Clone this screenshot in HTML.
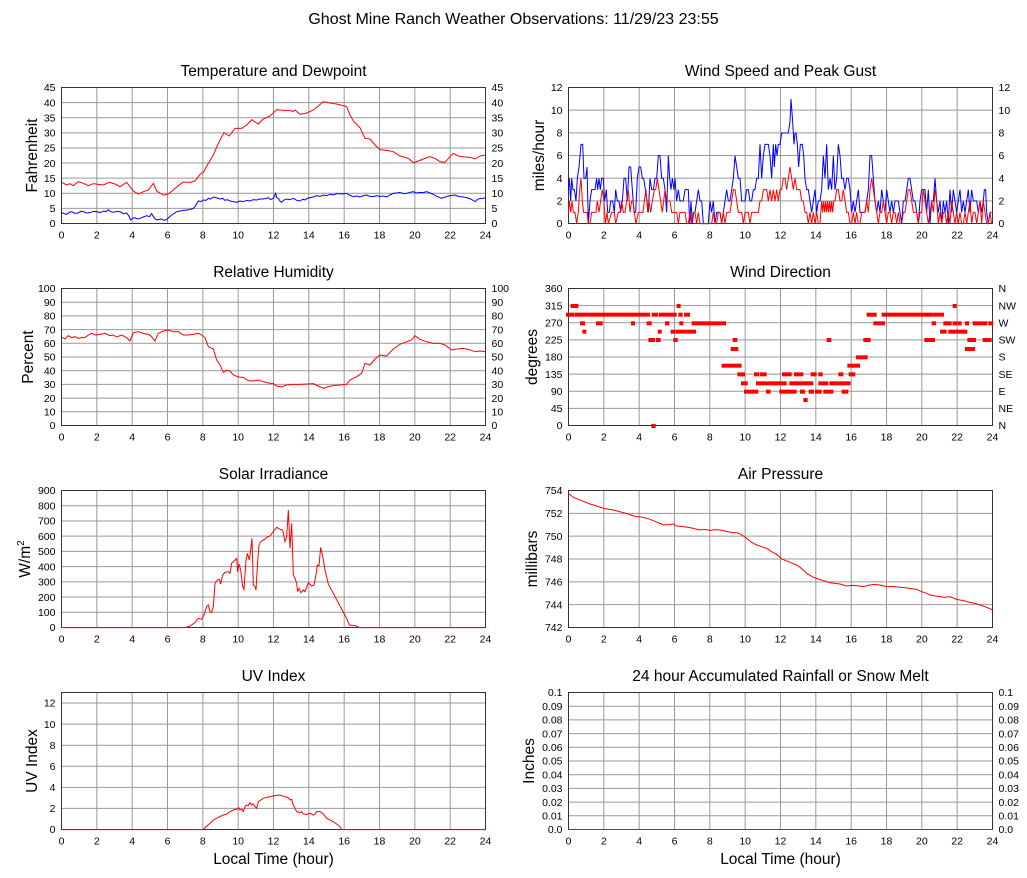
<!DOCTYPE html>
<html><head><meta charset="utf-8"><style>
html,body{margin:0;padding:0;background:#fff;}
svg{display:block;}
text{font-family:"Liberation Sans",Arial,sans-serif;fill:#000;}
.t{font-size:10.5px;}
.h{font-size:15.5px;}
.g{fill:none;stroke:#999;stroke-width:1;}
.f{fill:none;stroke:#333;stroke-width:1;}
.r{fill:none;stroke:#f00;stroke-width:1;vector-effect:non-scaling-stroke;}
.b{fill:none;stroke:#00f;stroke-width:1;vector-effect:non-scaling-stroke;}
</style></head><body>
<svg width="1027" height="878" viewBox="0 0 1027 878" xmlns="http://www.w3.org/2000/svg">
<rect width="1027" height="878" fill="#fff"/>
<text x="513.5" y="24" text-anchor="middle" style="font-size:16px">Ghost Mine Ranch Weather Observations: 11/29/23 23:55</text>

<!-- Temperature -->
<g transform="translate(61.5,87.5)">
<path class="g" d="M0 15.11H424M0 30.22H424M0 45.33H424M0 60.44H424M0 75.56H424M0 90.67H424M0 105.78H424M0 120.89H424"/>
<path class="g" d="M35.33 0V136M70.67 0V136M106 0V136M141.33 0V136M176.67 0V136M212 0V136M247.33 0V136M282.67 0V136M318 0V136M353.33 0V136M388.67 0V136"/>
<rect class="f" x="0" y="0" width="424" height="136"/>
<text class="h" x="212" y="-11.5" text-anchor="middle">Temperature and Dewpoint</text>
<text class="h" transform="translate(-24.5,68) rotate(-90)" text-anchor="middle">Fahrenheit</text>
<g class="t" text-anchor="end">
<text x="-6" y="3.7">45</text><text x="-6" y="18.8">40</text><text x="-6" y="33.9">35</text><text x="-6" y="49">30</text><text x="-6" y="64.1">25</text><text x="-6" y="79.3">20</text><text x="-6" y="94.4">15</text><text x="-6" y="109.5">10</text><text x="-6" y="124.6">5</text><text x="-6" y="139.7">0</text>
</g>
<g class="t">
<text x="430" y="3.7">45</text><text x="430" y="18.8">40</text><text x="430" y="33.9">35</text><text x="430" y="49">30</text><text x="430" y="64.1">25</text><text x="430" y="79.3">20</text><text x="430" y="94.4">15</text><text x="430" y="109.5">10</text><text x="430" y="124.6">5</text><text x="430" y="139.7">0</text>
</g>
<g class="t" text-anchor="middle">
<text x="0" y="151">0</text><text x="35.33" y="151">2</text><text x="70.67" y="151">4</text><text x="106" y="151">6</text><text x="141.33" y="151">8</text><text x="176.67" y="151">10</text><text x="212" y="151">12</text><text x="247.33" y="151">14</text><text x="282.67" y="151">16</text><text x="318" y="151">18</text><text x="353.33" y="151">20</text><text x="388.67" y="151">22</text><text x="424" y="151">24</text>
</g>
</g>

<!-- Wind speed -->
<g transform="translate(568.5,87.5)">
<path class="g" d="M0 22.67H424M0 45.33H424M0 68H424M0 90.67H424M0 113.33H424"/>
<path class="g" d="M35.33 0V136M70.67 0V136M106 0V136M141.33 0V136M176.67 0V136M212 0V136M247.33 0V136M282.67 0V136M318 0V136M353.33 0V136M388.67 0V136"/>
<rect class="f" x="0" y="0" width="424" height="136"/>
<text class="h" x="212" y="-11.5" text-anchor="middle">Wind Speed and Peak Gust</text>
<text class="h" transform="translate(-24.5,68) rotate(-90)" text-anchor="middle">miles/hour</text>
<g class="t" text-anchor="end">
<text x="-6" y="3.7">12</text><text x="-6" y="26.4">10</text><text x="-6" y="49">8</text><text x="-6" y="71.7">6</text><text x="-6" y="94.4">4</text><text x="-6" y="117">2</text><text x="-6" y="139.7">0</text>
</g>
<g class="t">
<text x="430" y="3.7">12</text><text x="430" y="26.4">10</text><text x="430" y="49">8</text><text x="430" y="71.7">6</text><text x="430" y="94.4">4</text><text x="430" y="117">2</text><text x="430" y="139.7">0</text>
</g>
<g class="t" text-anchor="middle">
<text x="0" y="151">0</text><text x="35.33" y="151">2</text><text x="70.67" y="151">4</text><text x="106" y="151">6</text><text x="141.33" y="151">8</text><text x="176.67" y="151">10</text><text x="212" y="151">12</text><text x="247.33" y="151">14</text><text x="282.67" y="151">16</text><text x="318" y="151">18</text><text x="353.33" y="151">20</text><text x="388.67" y="151">22</text><text x="424" y="151">24</text>
</g>
</g>

<!-- Relative Humidity -->
<g transform="translate(61.5,288.5)">
<path class="g" d="M0 13.7H424M0 27.4H424M0 41.1H424M0 54.8H424M0 68.5H424M0 82.2H424M0 95.9H424M0 109.6H424M0 123.3H424"/>
<path class="g" d="M35.33 0V137M70.67 0V137M106 0V137M141.33 0V137M176.67 0V137M212 0V137M247.33 0V137M282.67 0V137M318 0V137M353.33 0V137M388.67 0V137"/>
<rect class="f" x="0" y="0" width="424" height="137"/>
<text class="h" x="212" y="-11.5" text-anchor="middle">Relative Humidity</text>
<text class="h" transform="translate(-28.5,68.5) rotate(-90)" text-anchor="middle">Percent</text>
<g class="t" text-anchor="end">
<text x="-6" y="3.7">100</text><text x="-6" y="17.4">90</text><text x="-6" y="31.1">80</text><text x="-6" y="44.8">70</text><text x="-6" y="58.5">60</text><text x="-6" y="72.2">50</text><text x="-6" y="85.9">40</text><text x="-6" y="99.6">30</text><text x="-6" y="113.3">20</text><text x="-6" y="127">10</text><text x="-6" y="140.7">0</text>
</g>
<g class="t">
<text x="430" y="3.7">100</text><text x="430" y="17.4">90</text><text x="430" y="31.1">80</text><text x="430" y="44.8">70</text><text x="430" y="58.5">60</text><text x="430" y="72.2">50</text><text x="430" y="85.9">40</text><text x="430" y="99.6">30</text><text x="430" y="113.3">20</text><text x="430" y="127">10</text><text x="430" y="140.7">0</text>
</g>
<g class="t" text-anchor="middle">
<text x="0" y="152">0</text><text x="35.33" y="152">2</text><text x="70.67" y="152">4</text><text x="106" y="152">6</text><text x="141.33" y="152">8</text><text x="176.67" y="152">10</text><text x="212" y="152">12</text><text x="247.33" y="152">14</text><text x="282.67" y="152">16</text><text x="318" y="152">18</text><text x="353.33" y="152">20</text><text x="388.67" y="152">22</text><text x="424" y="152">24</text>
</g>
</g>

<!-- Wind Direction -->
<g transform="translate(568.5,288.5)">
<path class="g" d="M0 17.13H424M0 34.25H424M0 51.38H424M0 68.5H424M0 85.63H424M0 102.75H424M0 119.88H424"/>
<path class="g" d="M35.33 0V137M70.67 0V137M106 0V137M141.33 0V137M176.67 0V137M212 0V137M247.33 0V137M282.67 0V137M318 0V137M353.33 0V137M388.67 0V137"/>
<rect class="f" x="0" y="0" width="424" height="137"/>
<text class="h" x="212" y="-11.5" text-anchor="middle">Wind Direction</text>
<text class="h" transform="translate(-31.5,68.5) rotate(-90)" text-anchor="middle">degrees</text>
<g class="t" text-anchor="end">
<text x="-6" y="3.7">360</text><text x="-6" y="20.8">315</text><text x="-6" y="38">270</text><text x="-6" y="55.1">225</text><text x="-6" y="72.2">180</text><text x="-6" y="89.3">135</text><text x="-6" y="106.5">90</text><text x="-6" y="123.6">45</text><text x="-6" y="140.7">0</text>
</g>
<g class="t">
<text x="430" y="3.7">N</text><text x="430" y="20.8">NW</text><text x="430" y="38">W</text><text x="430" y="55.1">SW</text><text x="430" y="72.2">S</text><text x="430" y="89.3">SE</text><text x="430" y="106.5">E</text><text x="430" y="123.6">NE</text><text x="430" y="140.7">N</text>
</g>
<g class="t" text-anchor="middle">
<text x="0" y="152">0</text><text x="35.33" y="152">2</text><text x="70.67" y="152">4</text><text x="106" y="152">6</text><text x="141.33" y="152">8</text><text x="176.67" y="152">10</text><text x="212" y="152">12</text><text x="247.33" y="152">14</text><text x="282.67" y="152">16</text><text x="318" y="152">18</text><text x="353.33" y="152">20</text><text x="388.67" y="152">22</text><text x="424" y="152">24</text>
</g>
</g>

<!-- Solar -->
<g transform="translate(61.5,490.5)">
<path class="g" d="M0 15.22H424M0 30.44H424M0 45.67H424M0 60.89H424M0 76.11H424M0 91.33H424M0 106.56H424M0 121.78H424"/>
<path class="g" d="M35.33 0V137M70.67 0V137M106 0V137M141.33 0V137M176.67 0V137M212 0V137M247.33 0V137M282.67 0V137M318 0V137M353.33 0V137M388.67 0V137"/>
<rect class="f" x="0" y="0" width="424" height="137"/>
<text class="h" x="212" y="-11.5" text-anchor="middle">Solar Irradiance</text>
<text class="h" transform="translate(-31.5,68.5) rotate(-90)" text-anchor="middle">W/m<tspan dy="-6" style="font-size:10px">2</tspan></text>
<g class="t" text-anchor="end">
<text x="-6" y="3.7">900</text><text x="-6" y="18.9">800</text><text x="-6" y="34.1">700</text><text x="-6" y="49.4">600</text><text x="-6" y="64.6">500</text><text x="-6" y="79.8">400</text><text x="-6" y="95">300</text><text x="-6" y="110.3">200</text><text x="-6" y="125.5">100</text><text x="-6" y="140.7">0</text>
</g>
<g class="t" text-anchor="middle">
<text x="0" y="152">0</text><text x="35.33" y="152">2</text><text x="70.67" y="152">4</text><text x="106" y="152">6</text><text x="141.33" y="152">8</text><text x="176.67" y="152">10</text><text x="212" y="152">12</text><text x="247.33" y="152">14</text><text x="282.67" y="152">16</text><text x="318" y="152">18</text><text x="353.33" y="152">20</text><text x="388.67" y="152">22</text><text x="424" y="152">24</text>
</g>
</g>

<!-- Pressure -->
<g transform="translate(568.5,490.5)">
<path class="g" d="M0 22.83H424M0 45.67H424M0 68.5H424M0 91.33H424M0 114.17H424"/>
<path class="g" d="M35.33 0V137M70.67 0V137M106 0V137M141.33 0V137M176.67 0V137M212 0V137M247.33 0V137M282.67 0V137M318 0V137M353.33 0V137M388.67 0V137"/>
<rect class="f" x="0" y="0" width="424" height="137"/>
<text class="h" x="212" y="-11.5" text-anchor="middle">Air Pressure</text>
<text class="h" transform="translate(-31.5,68.5) rotate(-90)" text-anchor="middle">millibars</text>
<g class="t" text-anchor="end">
<text x="-6" y="3.7">754</text><text x="-6" y="26.5">752</text><text x="-6" y="49.4">750</text><text x="-6" y="72.2">748</text><text x="-6" y="95">746</text><text x="-6" y="117.9">744</text><text x="-6" y="140.7">742</text>
</g>
<g class="t" text-anchor="middle">
<text x="0" y="152">0</text><text x="35.33" y="152">2</text><text x="70.67" y="152">4</text><text x="106" y="152">6</text><text x="141.33" y="152">8</text><text x="176.67" y="152">10</text><text x="212" y="152">12</text><text x="247.33" y="152">14</text><text x="282.67" y="152">16</text><text x="318" y="152">18</text><text x="353.33" y="152">20</text><text x="388.67" y="152">22</text><text x="424" y="152">24</text>
</g>
</g>

<!-- UV -->
<g transform="translate(61.5,692.5)">
<path class="g" d="M0 10.54H424M0 31.62H424M0 52.69H424M0 73.77H424M0 94.85H424M0 115.92H424"/>
<path class="g" d="M35.33 0V137M70.67 0V137M106 0V137M141.33 0V137M176.67 0V137M212 0V137M247.33 0V137M282.67 0V137M318 0V137M353.33 0V137M388.67 0V137"/>
<rect class="f" x="0" y="0" width="424" height="137"/>
<text class="h" x="212" y="-11.5" text-anchor="middle">UV Index</text>
<text class="h" transform="translate(-24.5,68.5) rotate(-90)" text-anchor="middle">UV Index</text>
<g class="t" text-anchor="end">
<text x="-6" y="14.2">12</text><text x="-6" y="35.3">10</text><text x="-6" y="56.4">8</text><text x="-6" y="77.5">6</text><text x="-6" y="98.5">4</text><text x="-6" y="119.6">2</text><text x="-6" y="140.7">0</text>
</g>
<g class="t" text-anchor="middle">
<text x="0" y="152">0</text><text x="35.33" y="152">2</text><text x="70.67" y="152">4</text><text x="106" y="152">6</text><text x="141.33" y="152">8</text><text x="176.67" y="152">10</text><text x="212" y="152">12</text><text x="247.33" y="152">14</text><text x="282.67" y="152">16</text><text x="318" y="152">18</text><text x="353.33" y="152">20</text><text x="388.67" y="152">22</text><text x="424" y="152">24</text>
</g>
<text class="h" x="212" y="171.5" text-anchor="middle">Local Time (hour)</text>
</g>

<!-- Rain -->
<g transform="translate(568.5,692.5)">
<path class="g" d="M0 13.7H424M0 27.4H424M0 41.1H424M0 54.8H424M0 68.5H424M0 82.2H424M0 95.9H424M0 109.6H424M0 123.3H424"/>
<path class="g" d="M35.33 0V137M70.67 0V137M106 0V137M141.33 0V137M176.67 0V137M212 0V137M247.33 0V137M282.67 0V137M318 0V137M353.33 0V137M388.67 0V137"/>
<rect class="f" x="0" y="0" width="424" height="137"/>
<text class="h" x="212" y="-11.5" text-anchor="middle">24 hour Accumulated Rainfall or Snow Melt</text>
<text class="h" transform="translate(-34.5,68.5) rotate(-90)" text-anchor="middle">Inches</text>
<g class="t" text-anchor="end">
<text x="-6" y="3.7">0.1</text><text x="-6" y="17.4">0.09</text><text x="-6" y="31.1">0.08</text><text x="-6" y="44.8">0.07</text><text x="-6" y="58.5">0.06</text><text x="-6" y="72.2">0.05</text><text x="-6" y="85.9">0.04</text><text x="-6" y="99.6">0.03</text><text x="-6" y="113.3">0.02</text><text x="-6" y="127">0.01</text><text x="-6" y="140.7">0.0</text>
</g>
<g class="t">
<text x="430" y="3.7">0.1</text><text x="430" y="17.4">0.09</text><text x="430" y="31.1">0.08</text><text x="430" y="44.8">0.07</text><text x="430" y="58.5">0.06</text><text x="430" y="72.2">0.05</text><text x="430" y="85.9">0.04</text><text x="430" y="99.6">0.03</text><text x="430" y="113.3">0.02</text><text x="430" y="127">0.01</text><text x="430" y="140.7">0.0</text>
</g>
<g class="t" text-anchor="middle">
<text x="0" y="152">0</text><text x="35.33" y="152">2</text><text x="70.67" y="152">4</text><text x="106" y="152">6</text><text x="141.33" y="152">8</text><text x="176.67" y="152">10</text><text x="212" y="152">12</text><text x="247.33" y="152">14</text><text x="282.67" y="152">16</text><text x="318" y="152">18</text><text x="353.33" y="152">20</text><text x="388.67" y="152">22</text><text x="424" y="152">24</text>
</g>
<text class="h" x="212" y="171.5" text-anchor="middle">Local Time (hour)</text>
<path d="M0 137H424" stroke="#f00" stroke-width="1" fill="none"/>
</g>

<!-- DATA: Temperature / Dewpoint -->
<g transform="translate(60,85) scale(0.33333)">
<polyline class="r" points="5,292 20,300 30,296 40,302 55,290 70,295 85,302 100,296 115,298 130,300 148,292 165,297 180,305 200,292 210,305 220,318 235,327 250,320 265,315 280,295 290,318 310,330 325,327 340,315 355,302 370,291 390,292 405,288 420,268 430,262 445,235 460,210 475,175 492,143 508,153 525,130 545,130 560,120 575,104 595,117 610,102 630,93 650,74 670,76 690,76 698,80 705,75 720,88 740,84 760,75 775,63 790,50 810,54 835,58 860,65 870,90 880,108 900,128 915,160 930,162 945,180 960,194 980,196 1000,200 1020,213 1045,220 1060,233 1075,228 1090,222 1110,215 1125,220 1140,230 1155,232 1170,215 1180,205 1195,213 1215,216 1230,217 1245,222 1260,213 1275,210"/>
<polyline class="b" points="5,382 12,386 20,388 28,382 35,380 45,385 55,384 62,379 70,380 80,384 90,383 100,379 110,380 120,383 130,378 138,380 145,374 152,380 160,382 170,379 180,380 190,386 200,384 206,392 212,405 218,400 225,398 232,402 240,400 250,396 260,392 268,395 275,386 282,398 290,405 298,403 305,402 312,406 320,404 328,396 335,390 342,386 350,380 360,378 370,376 382,375 395,372 400,370 405,365 410,356 415,348 422,350 430,345 438,346 445,340 452,342 460,336 468,338 480,342 488,340 495,346 502,344 510,348 520,350 530,352 540,348 550,350 560,346 570,348 580,344 590,345 600,342 610,342 618,340 625,338 632,344 640,340 647,325 650,338 655,340 660,348 665,352 672,345 680,342 690,344 700,340 710,346 720,348 728,343 735,345 742,340 750,338 760,336 770,332 780,334 790,330 800,332 810,328 820,330 830,326 845,327 860,325 868,330 880,335 890,333 900,336 910,332 920,330 930,334 940,335 950,332 960,334 970,333 980,336 990,330 1000,325 1010,324 1020,322 1030,326 1040,325 1050,322 1060,320 1070,324 1080,322 1090,323 1100,320 1110,324 1120,328 1130,334 1145,340 1152,337 1160,335 1170,332 1185,330 1192,333 1200,335 1210,336 1220,338 1232,342 1245,350 1252,344 1260,340 1268,341 1275,338"/>
</g>

<!-- DATA: Wind speed -->
<g transform="translate(565,85) scale(0.33333)">
<polyline class="b" points="10,314 13,280 17,348 20,280 24,314 28,314 33,348 37,280 42,246 48,178 53,178 57,280 62,280 66,246 70,416 75,348 80,314 90,314 95,280 98,314 102,280 106,314 110,280 115,280 119,348 124,314 128,382 133,382 137,348 143,348 148,382 152,314 157,348 162,348 167,382 172,348 177,280 182,280 187,348 192,246 197,246 202,314 207,382 212,382 217,280 222,246 227,246 232,280 236,280 241,314 246,348 250,382 255,280 260,314 265,314 270,280 275,280 280,212 285,212 290,280 295,280 300,314 305,382 310,212 314,280 318,314 322,280 327,314 330,280 335,348 340,314 345,348 350,348 355,348 360,314 365,314 370,314 374,416 378,348 382,416 386,382 390,382 395,348 400,314 405,348 410,348 415,416 420,416 430,416 435,348 440,382 445,348 450,416 455,382 460,382 465,382 470,416 475,382 480,348 485,314 490,348 495,348 500,314 505,280 510,212 515,246 520,280 525,280 530,348 535,348 540,348 545,314 550,314 555,348 560,348 565,314 570,314 575,280 580,280 585,178 590,280 595,212 600,178 605,178 610,178 615,212 620,280 625,178 628,246 632,178 636,212 640,178 645,178 650,144 660,144 670,144 675,110 678,42 683,110 687,178 690,144 693,144 697,178 701,246 706,178 712,178 716,212 720,280 725,314 730,314 735,348 740,382 745,348 750,314 755,382 760,348 765,348 770,314 775,212 780,280 785,178 790,314 795,280 800,314 805,212 810,314 815,280 820,178 825,212 830,280 835,280 840,314 845,280 850,280 855,314 860,382 865,348 870,382 875,348 880,314 885,382 890,382 895,382 900,382 905,348 910,314 915,212 920,212 925,280 930,348 935,382 940,348 945,382 950,314 955,348 960,382 965,314 970,348 975,382 980,348 985,382 990,348 995,348 1000,348 1005,382 1010,416 1015,348 1020,348 1025,314 1030,280 1035,280 1040,314 1045,348 1050,348 1055,382 1060,416 1065,348 1070,314 1075,314 1080,314 1085,382 1090,314 1095,416 1100,348 1105,348 1110,280 1115,348 1120,382 1125,348 1130,416 1135,348 1140,382 1145,348 1150,416 1155,314 1160,382 1165,314 1170,348 1175,382 1180,348 1185,314 1190,382 1195,348 1200,382 1205,348 1210,314 1215,382 1220,314 1225,348 1230,348 1235,348 1240,382 1245,348 1250,382 1255,348 1258,314 1262,314 1265,382 1270,416 1275,382 1280,382"/>
<polyline class="r" points="10,382 13,348 17,382 21,348 25,382 30,382 35,416 40,382 44,314 48,280 52,348 56,382 62,382 66,382 70,416 75,416 80,382 88,382 93,382 97,348 102,382 107,348 112,314 117,348 121,416 126,382 130,416 140,382 148,382 152,416 160,382 165,382 170,348 175,382 180,382 185,348 190,314 195,382 200,348 204,348 208,382 213,416 220,382 228,382 234,382 238,348 243,314 248,382 252,348 257,382 262,348 268,314 272,314 277,280 282,314 287,348 292,382 296,348 300,314 305,348 310,348 315,348 320,382 325,382 330,382 335,382 340,416 345,382 350,382 355,382 360,382 365,416 370,416 375,382 380,416 385,382 390,382 395,416 400,382 405,416 410,416 440,416 445,382 450,416 455,416 460,382 465,382 470,416 475,382 480,416 485,382 490,382 495,382 500,348 505,314 510,314 515,348 520,382 525,382 530,382 535,416 540,382 545,382 550,382 555,416 560,382 570,382 575,382 580,382 585,348 590,348 595,314 600,314 605,314 610,348 615,314 620,348 625,314 630,348 635,314 640,348 645,314 650,314 655,280 660,280 665,314 670,280 675,246 680,280 685,314 690,280 695,314 700,314 705,314 710,348 715,348 720,382 725,382 730,416 735,382 740,416 745,382 750,416 755,382 760,416 765,416 770,348 773,382 776,348 779,382 782,348 785,382 788,348 791,382 794,348 797,382 800,348 803,382 806,348 810,348 815,314 820,314 825,348 830,348 835,314 840,348 845,382 850,382 855,416 860,416 865,382 870,416 875,382 880,416 885,416 890,382 895,382 900,382 905,348 910,382 915,314 920,280 925,314 930,348 935,382 940,416 945,382 950,382 955,348 960,382 965,416 970,382 975,382 980,416 985,382 990,382 995,416 1000,382 1005,416 1010,416 1015,382 1020,382 1025,348 1030,314 1035,314 1040,348 1045,382 1050,382 1055,382 1060,416 1065,382 1070,382 1075,314 1080,348 1085,382 1090,416 1095,382 1100,348 1105,382 1110,314 1115,348 1120,416 1125,382 1130,416 1135,382 1140,382 1145,416 1150,382 1155,416 1160,348 1165,382 1170,416 1175,382 1180,416 1185,382 1190,416 1195,416 1200,382 1205,416 1210,382 1215,348 1220,416 1225,382 1230,382 1235,416 1240,382 1245,348 1250,416 1255,348 1260,382 1265,416 1270,416 1275,382 1280,416"/>
</g>

<!-- DATA: RH -->
<g transform="translate(60,285) scale(0.33333)">
<polyline class="r" points="5,160 10,158 15,162 25,152 35,158 45,155 55,160 65,158 75,158 85,150 95,145 105,150 120,148 135,145 150,152 160,150 170,156 185,150 200,158 210,168 220,143 235,140 250,145 265,148 275,155 285,168 295,145 310,138 325,135 340,140 355,140 370,150 385,150 400,148 415,145 425,150 435,158 445,185 460,192 470,225 480,240 490,262 500,256 510,258 520,270 535,276 550,277 565,287 580,288 595,285 610,290 625,294 640,296 650,303 665,306 680,300 700,298 720,298 740,297 760,296 775,303 790,310 805,305 820,302 840,300 860,298 870,285 890,275 905,265 915,235 930,240 945,222 960,210 980,213 1000,192 1020,178 1040,170 1055,165 1065,152 1080,163 1100,170 1120,175 1140,175 1155,180 1175,195 1190,192 1210,190 1225,193 1245,200 1260,198 1275,200"/>
</g>

<!-- DATA: Wind direction -->
<g transform="translate(565,285) scale(0.33333)" fill="#f00">
<rect x="17" y="57" width="23" height="12"/><rect x="335" y="57" width="12" height="12"/><rect x="1163" y="57" width="12" height="12"/>
<rect x="3" y="83" width="24" height="12"/><rect x="28" y="83" width="27" height="12"/><rect x="53" y="83" width="52" height="12"/><rect x="103" y="83" width="152" height="12"/><rect x="260" y="83" width="20" height="12"/><rect x="282" y="83" width="53" height="12"/><rect x="340" y="83" width="13" height="12"/><rect x="357" y="83" width="18" height="12"/><rect x="905" y="83" width="30" height="12"/><rect x="950" y="83" width="140" height="12"/><rect x="1085" y="83" width="20" height="12"/><rect x="1105" y="83" width="32" height="12"/>
<rect x="45" y="109" width="15" height="12"/><rect x="93" y="109" width="20" height="12"/><rect x="198" y="109" width="12" height="12"/><rect x="245" y="109" width="15" height="12"/><rect x="300" y="109" width="13" height="12"/><rect x="343" y="109" width="12" height="12"/><rect x="380" y="109" width="103" height="12"/><rect x="925" y="109" width="35" height="12"/><rect x="1100" y="109" width="13" height="12"/><rect x="1135" y="109" width="25" height="12"/><rect x="1163" y="109" width="14" height="12"/><rect x="1178" y="109" width="12" height="12"/><rect x="1200" y="109" width="12" height="12"/><rect x="1223" y="109" width="44" height="12"/><rect x="1270" y="109" width="15" height="12"/>
<rect x="52" y="134" width="12" height="12"/><rect x="278" y="134" width="12" height="12"/><rect x="317" y="134" width="13" height="12"/><rect x="331" y="134" width="14" height="12"/><rect x="345" y="134" width="20" height="12"/><rect x="365" y="134" width="28" height="12"/><rect x="1125" y="134" width="20" height="12"/><rect x="1150" y="134" width="18" height="12"/><rect x="1165" y="134" width="42" height="12"/>
<rect x="250" y="159" width="20" height="12"/><rect x="273" y="159" width="14" height="12"/><rect x="325" y="159" width="13" height="12"/><rect x="503" y="159" width="14" height="12"/><rect x="785" y="159" width="14" height="12"/><rect x="895" y="159" width="22" height="12"/><rect x="1078" y="159" width="19" height="12"/><rect x="1095" y="159" width="15" height="12"/><rect x="1207" y="159" width="26" height="12"/><rect x="1253" y="159" width="27" height="12"/>
<rect x="497" y="186" width="23" height="12"/><rect x="1200" y="186" width="30" height="12"/>
<rect x="873" y="211" width="35" height="12"/>
<rect x="470" y="236" width="40" height="12"/><rect x="510" y="236" width="20" height="12"/><rect x="847" y="236" width="16" height="12"/><rect x="860" y="236" width="25" height="12"/>
<rect x="517" y="262" width="23" height="12"/><rect x="567" y="262" width="16" height="12"/><rect x="585" y="262" width="20" height="12"/><rect x="651" y="262" width="16" height="12"/><rect x="665" y="262" width="15" height="12"/><rect x="687" y="262" width="28" height="12"/><rect x="737" y="262" width="18" height="12"/><rect x="760" y="262" width="13" height="12"/><rect x="820" y="262" width="15" height="12"/><rect x="851" y="262" width="20" height="12"/>
<rect x="528" y="289" width="20" height="12"/><rect x="573" y="289" width="24" height="12"/><rect x="593" y="289" width="72" height="12"/><rect x="673" y="289" width="24" height="12"/><rect x="695" y="289" width="50" height="12"/><rect x="760" y="289" width="30" height="12"/><rect x="793" y="289" width="47" height="12"/><rect x="840" y="289" width="17" height="12"/>
<rect x="537" y="314" width="43" height="12"/><rect x="603" y="314" width="14" height="12"/><rect x="643" y="314" width="17" height="12"/><rect x="657" y="314" width="16" height="12"/><rect x="670" y="314" width="25" height="12"/><rect x="705" y="314" width="15" height="12"/><rect x="731" y="314" width="16" height="12"/><rect x="750" y="314" width="20" height="12"/><rect x="775" y="314" width="30" height="12"/><rect x="830" y="314" width="20" height="12"/>
<rect x="715" y="339" width="13" height="12"/>
<rect x="259" y="417" width="13" height="12"/>
</g>

<!-- DATA: Solar -->
<g transform="translate(0,460) scale(0.33333)">
<polyline class="r" points="183,503 555,503 570,498 585,488 595,475 605,478 612,465 620,440 625,435 630,455 635,458 640,440 645,370 652,360 658,358 662,372 668,345 675,337 685,335 690,340 695,310 705,300 710,295 713,335 717,312 722,330 728,380 732,388 738,300 742,280 748,300 752,270 756,235 760,375 765,380 768,390 772,320 777,255 782,245 790,240 795,238 800,232 810,228 820,215 830,202 840,208 848,210 855,245 860,230 865,150 870,265 875,190 880,345 885,355 890,370 893,395 897,385 903,398 910,390 915,395 925,368 935,378 942,375 948,345 952,315 957,318 962,262 968,288 975,330 985,372 1000,400 1020,438 1040,475 1048,495 1065,497 1080,503 1457,503"/>
</g>

<!-- DATA: Pressure -->
<g transform="translate(510,460) scale(0.33333)">
<polyline class="r" points="175,100 190,112 215,122 240,132 260,138 280,145 310,150 340,158 355,162 370,168 400,172 415,176 430,182 445,188 460,195 475,194 490,192 500,198 520,200 540,203 570,210 585,208 600,211 615,209 630,210 650,214 665,218 680,218 690,222 700,228 710,235 725,247 740,255 755,260 770,265 785,275 800,283 815,297 840,307 860,315 870,322 880,330 890,340 910,352 925,357 940,362 960,368 975,370 990,372 1010,378 1025,376 1040,377 1060,380 1075,376 1090,373 1110,375 1130,380 1145,379 1160,381 1175,382 1190,384 1205,386 1220,388 1235,395 1250,400 1260,405 1275,408 1290,410 1305,412 1320,410 1340,418 1360,422 1380,427 1395,430 1410,435 1430,442 1449,450"/>
</g>

<!-- DATA: UV -->
<g transform="translate(0,660) scale(0.33333)">
<polyline class="r" points="185,509 610,509 618,500 630,490 640,480 655,472 670,465 680,462 690,455 700,450 712,447 716,443 720,450 725,447 730,455 735,440 740,435 745,437 750,428 755,435 760,432 765,440 770,445 775,425 790,415 800,412 810,410 825,407 835,405 845,407 855,410 865,413 870,420 875,418 878,430 885,445 890,455 900,458 905,455 910,462 920,463 930,460 940,465 945,462 950,455 960,455 970,462 980,475 990,480 1000,485 1010,492 1020,500 1025,509 1457,509"/>
</g>
</svg>
</body></html>
